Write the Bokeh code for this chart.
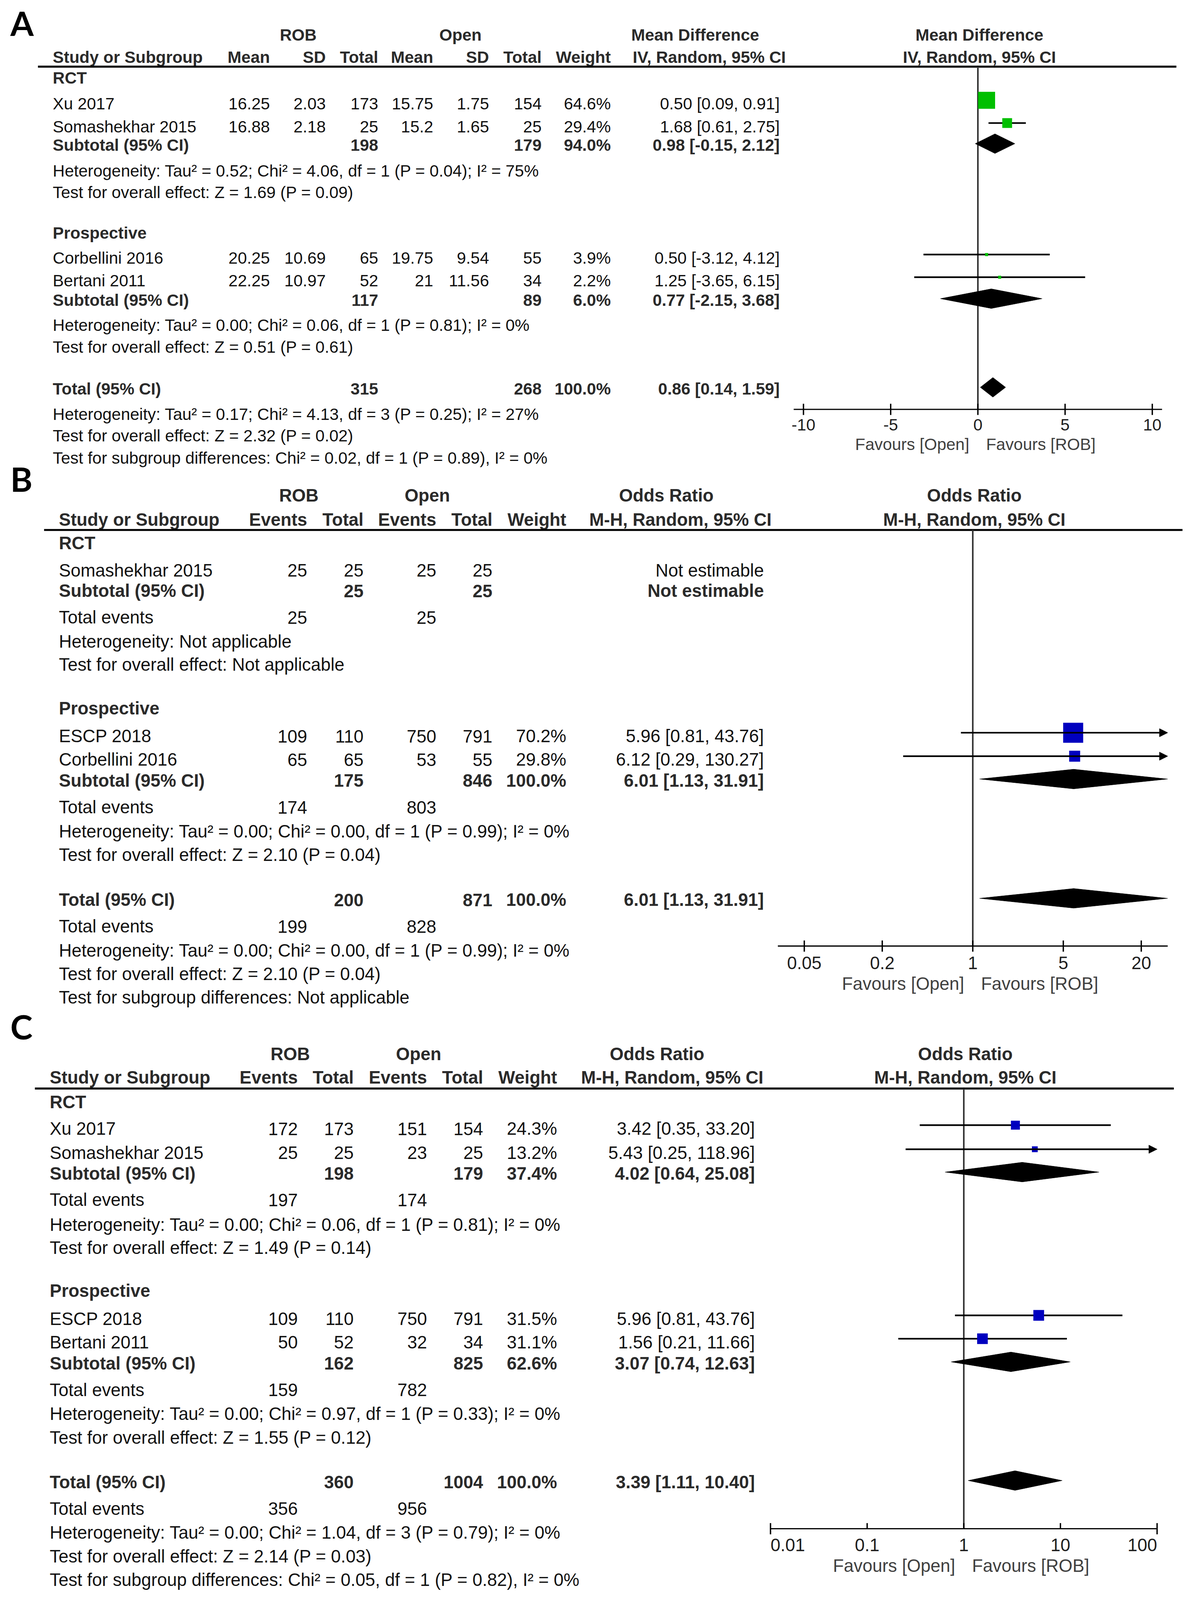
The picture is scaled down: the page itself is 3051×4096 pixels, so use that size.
import math
from bokeh.plotting import figure
from bokeh.models import Range1d, LinearScale, LogScale, ColumnDataSource, Arrow, NormalHead
from bokeh.core.properties import value
from bokeh.embed import file_html
from bokeh.resources import INLINE

# ======================= DATA =======================
# ---- Panel A : Mean Difference (IV, Random) ----
A_groups = ["RCT", "Prospective"]
A_study = ["Xu 2017", "Somashekhar 2015", "Corbellini 2016", "Bertani 2011"]
A_rob_mean = [16.25, 16.88, 20.25, 22.25]
A_rob_sd = [2.03, 2.18, 10.69, 10.97]
A_rob_total = [173, 25, 65, 52]
A_open_mean = [15.75, 15.2, 19.75, 21]
A_open_sd = [1.75, 1.65, 9.54, 11.56]
A_open_total = [154, 25, 55, 34]
A_weight = [64.6, 29.4, 3.9, 2.2]
A_md = [0.50, 1.68, 0.50, 1.25]
A_lo = [0.09, 0.61, -3.12, -3.65]
A_hi = [0.91, 2.75, 4.12, 6.15]
A_sum_label = ["Subtotal (95% CI)", "Subtotal (95% CI)", "Total (95% CI)"]
A_sum_rob_total = [198, 117, 315]
A_sum_open_total = [179, 89, 268]
A_sum_weight = [94.0, 6.0, 100.0]
A_sum_md = [0.98, 0.77, 0.86]
A_sum_lo = [-0.15, -2.15, 0.14]
A_sum_hi = [2.12, 3.68, 1.59]
A_het = ["Heterogeneity: Tau² = 0.52; Chi² = 4.06, df = 1 (P = 0.04); I² = 75%",
         "Heterogeneity: Tau² = 0.00; Chi² = 0.06, df = 1 (P = 0.81); I² = 0%",
         "Heterogeneity: Tau² = 0.17; Chi² = 4.13, df = 3 (P = 0.25); I² = 27%"]
A_test = ["Test for overall effect: Z = 1.69 (P = 0.09)",
          "Test for overall effect: Z = 0.51 (P = 0.61)",
          "Test for overall effect: Z = 2.32 (P = 0.02)"]
A_subgroup = "Test for subgroup differences: Chi² = 0.02, df = 1 (P = 0.89), I² = 0%"
A_ticks = [-10, -5, 0, 5, 10]
A_tick_labels = ["-10", "-5", "0", "5", "10"]
A_axis_limits = [-10.56, 10.56]
A_null = 0

# ---- Panel B : Odds Ratio (M-H, Random) ----
B_groups = ["RCT", "Prospective"]
B_study = ["Somashekhar 2015", "ESCP 2018", "Corbellini 2016"]
B_rob_events = [25, 109, 65]
B_rob_total = [25, 110, 65]
B_open_events = [25, 750, 53]
B_open_total = [25, 791, 55]
B_weight = [None, 70.2, 29.8]
B_or = [None, 5.96, 6.12]
B_lo = [None, 0.81, 0.29]
B_hi = [None, 43.76, 130.27]
B_sum_label = ["Subtotal (95% CI)", "Subtotal (95% CI)", "Total (95% CI)"]
B_sum_rob_total = [25, 175, 200]
B_sum_open_total = [25, 846, 871]
B_sum_weight = [None, 100.0, 100.0]
B_sum_or = [None, 6.01, 6.01]
B_sum_lo = [None, 1.13, 1.13]
B_sum_hi = [None, 31.91, 31.91]
B_events_rob = [25, 174, 199]
B_events_open = [25, 803, 828]
B_het = ["Heterogeneity: Not applicable",
         "Heterogeneity: Tau² = 0.00; Chi² = 0.00, df = 1 (P = 0.99); I² = 0%",
         "Heterogeneity: Tau² = 0.00; Chi² = 0.00, df = 1 (P = 0.99); I² = 0%"]
B_test = ["Test for overall effect: Not applicable",
          "Test for overall effect: Z = 2.10 (P = 0.04)",
          "Test for overall effect: Z = 2.10 (P = 0.04)"]
B_subgroup = "Test for subgroup differences: Not applicable"
B_ticks = [0.05, 0.2, 1, 5, 20]
B_tick_labels = ["0.05", "0.2", "1", "5", "20"]
B_axis_limits = [1 / 32.0, 32.0]
B_null = 1

# ---- Panel C : Odds Ratio (M-H, Random) ----
C_groups = ["RCT", "Prospective"]
C_study = ["Xu 2017", "Somashekhar 2015", "ESCP 2018", "Bertani 2011"]
C_rob_events = [172, 25, 109, 50]
C_rob_total = [173, 25, 110, 52]
C_open_events = [151, 23, 750, 32]
C_open_total = [154, 25, 791, 34]
C_weight = [24.3, 13.2, 31.5, 31.1]
C_or = [3.42, 5.43, 5.96, 1.56]
C_lo = [0.35, 0.25, 0.81, 0.21]
C_hi = [33.20, 118.96, 43.76, 11.66]
C_sum_label = ["Subtotal (95% CI)", "Subtotal (95% CI)", "Total (95% CI)"]
C_sum_rob_total = [198, 162, 360]
C_sum_open_total = [179, 825, 1004]
C_sum_weight = [37.4, 62.6, 100.0]
C_sum_or = [4.02, 3.07, 3.39]
C_sum_lo = [0.64, 0.74, 1.11]
C_sum_hi = [25.08, 12.63, 10.40]
C_events_rob = [197, 159, 356]
C_events_open = [174, 782, 956]
C_het = ["Heterogeneity: Tau² = 0.00; Chi² = 0.06, df = 1 (P = 0.81); I² = 0%",
         "Heterogeneity: Tau² = 0.00; Chi² = 0.97, df = 1 (P = 0.33); I² = 0%",
         "Heterogeneity: Tau² = 0.00; Chi² = 1.04, df = 3 (P = 0.79); I² = 0%"]
C_test = ["Test for overall effect: Z = 1.49 (P = 0.14)",
          "Test for overall effect: Z = 1.55 (P = 0.12)",
          "Test for overall effect: Z = 2.14 (P = 0.03)"]
C_subgroup = "Test for subgroup differences: Chi² = 0.05, df = 1 (P = 0.82), I² = 0%"
C_ticks = [0.01, 0.1, 1, 10, 100]
C_tick_labels = ["0.01", "0.1", "1", "10", "100"]
C_axis_limits = [0.01, 100.0]
C_null = 1

FAVOURS = ["Favours [Open]", "Favours [ROB]"]

# ======================= LAYOUT / STYLE =======================
S = 3051 / 1168.0           # reference-units -> pixels
W, H = 3035, 4080
X0 = 0.0
X1 = X0 + W / S
Y0 = 0.0
Y1 = Y0 + H / S

FONT = "Liberation Sans"
LABEL_FONT = "Lato"
TXT = "#111111"
HDR = "#2a2a2a"
GRAY = "#404040"

p = figure(width=W, height=H, x_range=Range1d(X0, X1), y_range=Range1d(Y1, Y0),
           output_backend="svg", toolbar_location=None,
           x_axis_location=None, y_axis_location=None, min_border=0)
p.outline_line_color = None
p.background_fill_color = "white"
p.border_fill_color = "white"
p.xgrid.visible = False
p.ygrid.visible = False

# forest-plot scales: (position of the null value in reference units, units per unit/decade, log?)
FMAP = {"fA": (958.0, 17.09, False), "fB": (953.0, 126.9, True), "fC": (944.2, 94.7, True)}
xr, xs_ = {}, {}
for name, (c, k, lg) in FMAP.items():
    if lg:
        xr[name] = Range1d(10 ** ((X0 - c) / k), 10 ** ((X1 - c) / k))
        xs_[name] = LogScale()
    else:
        xr[name] = Range1d((X0 - c) / k, (X1 - c) / k)
        xs_[name] = LinearScale()
p.extra_x_ranges = xr
p.extra_x_scales = xs_


def T(xs, ys, texts, align="left", bold=False, fs=42.4, color=TXT, rng="default",
      dx=0, baseline="middle", font=FONT):
    src = ColumnDataSource(dict(x=list(xs), y=list(ys), t=list(texts)))
    p.text(x="x", y="y", text="t", source=src, x_range_name=rng,
           text_align=align, text_baseline=baseline, text_font=value(font),
           text_font_size=f"{fs:.1f}px", text_font_style="bold" if bold else "normal",
           text_color=color, x_offset=dx)


def fmt_ci(e, l, h):
    if e is None:
        return "Not estimable"
    return f"{e:.2f} [{l:.2f}, {h:.2f}]"


def fmt_w(w):
    return "" if w is None else f"{w:.1f}%"


def fmt_g(v):
    return f"{v:g}"


def rule(x0, x1, y):
    p.segment(x0=[x0], y0=[y], x1=[x1], y1=[y], line_width=5.2, line_color="black")


def forest(rng, L, null_v, est, lo, hi, weights, a_size, color,
           s_est, s_lo, s_hi, limits, ticks, tick_labels, tick_align, inner_up, fs):
    ys = [y - 3.5 for y in L["studies"]]
    # null line
    p.segment(x0=[null_v], y0=[L["rule"]], x1=[null_v], y1=[L["axis"]], x_range_name=rng,
              line_width=4, line_color="#333333")
    seg = dict(x0=[], x1=[], y=[])
    arr = dict(x0=[], x1=[], y=[])
    sq = dict(x=[], y=[], s=[])
    for e, l, h, w, y in zip(est, lo, hi, weights, ys):
        if e is None:
            continue
        if h > limits[1]:
            arr["x0"].append(max(l, limits[0])); arr["x1"].append(limits[1]); arr["y"].append(y)
        else:
            seg["x0"].append(max(l, limits[0])); seg["x1"].append(h); seg["y"].append(y)
        sq["x"].append(e); sq["y"].append(y)
        sq["s"].append(max(a_size * w ** 0.7, 3.0) * S)
    if seg["x0"]:
        p.segment(x0="x0", y0="y", x1="x1", y1="y", source=ColumnDataSource(seg),
                  x_range_name=rng, line_width=4.2, line_color="black")
    if arr["x0"]:
        p.add_layout(Arrow(end=NormalHead(size=21, fill_color="black", line_color="black", line_width=1),
                           x_start="x0", y_start="y", x_end="x1", y_end="y",
                           source=ColumnDataSource(arr), x_range_name=rng,
                           line_width=4.2, line_color="black"))
    p.scatter(x="x", y="y", size="s", marker="square", source=ColumnDataSource(sq),
              x_range_name=rng, fill_color=color, line_color=None)
    # diamonds
    dxs, dys = [], []
    for e, l, h, y in zip(s_est, s_lo, s_hi, L["sums"]):
        if e is None:
            continue
        yc = y - 1.5
        dxs.append([l, e, h, e]); dys.append([yc, yc - 9.6, yc, yc + 9.6])
    p.patches(xs="xs", ys="ys", source=ColumnDataSource(dict(xs=dxs, ys=dys)), x_range_name=rng,
              fill_color="black", line_color="black", line_width=1)
    # axis
    ya = L["axis"]
    p.segment(x0=[limits[0]], y0=[ya], x1=[limits[1]], y1=[ya], x_range_name=rng,
              line_width=3.2, line_color="black")
    t0, t1 = [], []
    for i, t in enumerate(ticks):
        end = (i == 0 or i == len(ticks) - 1)
        t0.append(ya - 5.5)
        t1.append(ya + (0 if (inner_up and not end) else 5.5))
    p.segment(x0=ticks, y0=t0, x1=ticks, y1=t1, x_range_name=rng, line_width=3.5, line_color="black")
    for al in ("left", "center", "right"):
        sel = [i for i, a in enumerate(tick_align) if a == al]
        if sel:
            T([ticks[i] for i in sel], [L["tl"]] * len(sel), [tick_labels[i] for i in sel],
              align=al, fs=fs, color="#1e1e1e", rng=rng)
    T([null_v], [L["fav"]], [FAVOURS[0]], align="right", fs=fs, color=GRAY, rng=rng, dx=-22)
    T([null_v], [L["fav"]], [FAVOURS[1]], align="left", fs=fs, color=GRAY, rng=rng, dx=21)


# ======================= PANEL A =======================
LA = dict(label=22.2, h1=34.0, h2=55.8, rule=65.1, groups=[76.0, 228.0],
          studies=[101.6, 123.9, 252.8, 275.0], sums=[142.1, 294.0, 380.9],
          het=[167.3, 318.6, 405.8], test=[188.5, 339.8, 426.7], subgroup=448.5,
          axis=401.0, tl=416.2, fav=435.3)
XA = dict(study=51.5, cols=[264.3, 319.0, 370.4, 424.3, 479.0, 530.5, 598.3, 763.8],
          rule=(37.0, 1152.5), h1=[292.0, 451.0, 681.0], ci_hdr=694.8)
fa = 42.4

T([10.0], [LA["label"]], ["A"], bold=True, fs=86, color="black", font=LABEL_FONT)
T(XA["h1"], [LA["h1"]] * 3, ["ROB", "Open", "Mean Difference"], "center", True, fa, HDR)
T([A_null], [LA["h1"]], ["Mean Difference"], "center", True, fa, HDR, rng="fA", dx=4)
T([XA["study"]], [LA["h2"]], ["Study or Subgroup"], "left", True, fa, HDR)
T(XA["cols"][:7], [LA["h2"]] * 7, ["Mean", "SD", "Total", "Mean", "SD", "Total", "Weight"],
  "right", True, fa, HDR)
T([XA["ci_hdr"]], [LA["h2"]], ["IV, Random, 95% CI"], "center", True, fa, HDR)
T([A_null], [LA["h2"]], ["IV, Random, 95% CI"], "center", True, fa, HDR, rng="fA", dx=4)
rule(XA["rule"][0], XA["rule"][1], LA["rule"])

T([XA["study"]] * 2, LA["groups"], A_groups, "left", True, fa, HDR)
n = len(A_study)
T([XA["study"]] * n, LA["studies"], A_study, "left", False, fa)
cols_a = [[fmt_g(v) for v in A_rob_mean], [fmt_g(v) for v in A_rob_sd], [str(v) for v in A_rob_total],
          [fmt_g(v) for v in A_open_mean], [fmt_g(v) for v in A_open_sd], [str(v) for v in A_open_total],
          [fmt_w(v) for v in A_weight], [fmt_ci(e, l, h) for e, l, h in zip(A_md, A_lo, A_hi)]]
for cx, vals in zip(XA["cols"], cols_a):
    T([cx] * n, LA["studies"], vals, "right", False, fa)
m = len(A_sum_label)
T([XA["study"]] * m, LA["sums"], A_sum_label, "left", True, fa, HDR)
T([XA["cols"][2]] * m, LA["sums"], [str(v) for v in A_sum_rob_total], "right", True, fa, HDR)
T([XA["cols"][5]] * m, LA["sums"], [str(v) for v in A_sum_open_total], "right", True, fa, HDR)
T([XA["cols"][6]] * m, LA["sums"], [fmt_w(v) for v in A_sum_weight], "right", True, fa, HDR)
T([XA["cols"][7]] * m, LA["sums"], [fmt_ci(e, l, h) for e, l, h in zip(A_sum_md, A_sum_lo, A_sum_hi)],
  "right", True, fa, HDR)
T([XA["study"]] * 3, LA["het"], A_het, "left", False, fa)
T([XA["study"]] * 3, LA["test"], A_test, "left", False, fa)
T([XA["study"]], [LA["subgroup"]], [A_subgroup], "left", False, fa)

forest("fA", LA, A_null, A_md, A_lo, A_hi, A_weight, 0.90, "#00bf00",
       A_sum_md, A_sum_lo, A_sum_hi, A_axis_limits, A_ticks, A_tick_labels,
       ["center"] * 5, False, fa)


# ======================= PANELS B & C =======================
def or_panel(letter, L, X, rng, null_v, fs, groups, study, rob_ev, rob_tot, op_ev, op_tot, weight,
             est, lo, hi, sum_label, s_rob_tot, s_op_tot, s_w, s_est, s_lo, s_hi, ev_rob, ev_op,
             het, test, subgroup, ticks, tick_labels, tick_align, inner_up, limits, a_size):
    T([10.0], [L["label"]], [letter], bold=True, fs=86, color="black", font=LABEL_FONT)
    T(X["h1"], [L["h1"]] * 3, ["ROB", "Open", "Odds Ratio"], "center", True, fs, HDR)
    T([null_v], [L["h1"]], ["Odds Ratio"], "center", True, fs, HDR, rng=rng, dx=4)
    T([X["study"]], [L["h2"]], ["Study or Subgroup"], "left", True, fs, HDR)
    T(X["cols"][:5], [L["h2"]] * 5, ["Events", "Total", "Events", "Total", "Weight"], "right", True, fs, HDR)
    T([X["ci_hdr"]], [L["h2"]], ["M-H, Random, 95% CI"], "center", True, fs, HDR)
    T([null_v], [L["h2"]], ["M-H, Random, 95% CI"], "center", True, fs, HDR, rng=rng, dx=4)
    rule(X["rule"][0], X["rule"][1], L["rule"])

    T([X["study"]] * 2, L["groups"], groups, "left", True, fs, HDR)
    k = len(study)
    T([X["study"]] * k, L["studies"], study, "left", False, fs)
    cols = [[str(v) for v in rob_ev], [str(v) for v in rob_tot], [str(v) for v in op_ev],
            [str(v) for v in op_tot], [fmt_w(v) for v in weight],
            [fmt_ci(e, l, h) for e, l, h in zip(est, lo, hi)]]
    for cx, vals in zip(X["cols"], cols):
        T([cx] * k, L["studies"], vals, "right", False, fs)
    m = len(sum_label)
    T([X["study"]] * m, L["sums"], sum_label, "left", True, fs, HDR)
    T([X["cols"][1]] * m, L["sums"], [str(v) for v in s_rob_tot], "right", True, fs, HDR)
    T([X["cols"][3]] * m, L["sums"], [str(v) for v in s_op_tot], "right", True, fs, HDR)
    T([X["cols"][4]] * m, L["sums"], [fmt_w(v) for v in s_w], "right", True, fs, HDR)
    T([X["cols"][5]] * m, L["sums"], [fmt_ci(e, l, h) for e, l, h in zip(s_est, s_lo, s_hi)],
      "right", True, fs, HDR)
    T([X["study"]] * m, L["events"], ["Total events"] * m, "left", False, fs)
    T([X["cols"][0]] * m, L["events"], [str(v) for v in ev_rob], "right", False, fs)
    T([X["cols"][2]] * m, L["events"], [str(v) for v in ev_op], "right", False, fs)
    T([X["study"]] * m, L["het"], het, "left", False, fs)
    T([X["study"]] * m, L["test"], test, "left", False, fs)
    T([X["study"]], [L["subgroup"]], [subgroup], "left", False, fs)
    forest(rng, L, null_v, est, lo, hi, weight, a_size, "#0000bf",
           s_est, s_lo, s_hi, limits, ticks, tick_labels, tick_align, inner_up, fs)


LB = dict(label=469.0, h1=485.3, h2=509.0, rule=519.2, groups=[532.0, 694.0],
          studies=[558.8, 721.4, 744.4], sums=[579.0, 764.8, 881.7], events=[605.0, 791.0, 907.8],
          het=[628.6, 814.6, 931.5], test=[651.3, 837.7, 954.5], subgroup=977.5,
          axis=927.0, tl=943.3, fav=963.9)
XB = dict(study=57.5, cols=[300.8, 356.0, 427.3, 482.3, 554.7, 748.3], rule=(43.0, 1158.5),
          h1=[292.6, 418.5, 652.7], ci_hdr=666.5)
or_panel("B", LB, XB, "fB", B_null, 45.4, B_groups, B_study, B_rob_events, B_rob_total,
         B_open_events, B_open_total, B_weight, B_or, B_lo, B_hi, B_sum_label, B_sum_rob_total,
         B_sum_open_total, B_sum_weight, B_sum_or, B_sum_lo, B_sum_hi, B_events_rob, B_events_open,
         B_het, B_test, B_subgroup, B_ticks, B_tick_labels, ["center"] * 5, False, B_axis_limits, 1.0)

LC = dict(label=1005.5, h1=1033.0, h2=1056.0, rule=1066.6, groups=[1080.0, 1265.0],
          studies=[1106.0, 1129.6, 1292.4, 1315.3], sums=[1150.0, 1336.0, 1452.3],
          events=[1175.8, 1362.0, 1478.4], het=[1200.0, 1385.4, 1501.7],
          test=[1222.6, 1408.7, 1525.0], subgroup=1548.3, axis=1498.0, tl=1514.0, fav=1534.5)
XC = dict(study=48.5, cols=[291.6, 346.4, 418.2, 473.2, 545.7, 739.5], rule=(34.0, 1150.0),
          h1=[284.2, 410.0, 643.6], ci_hdr=658.5)
or_panel("C", LC, XC, "fC", C_null, 45.4, C_groups, C_study, C_rob_events, C_rob_total,
         C_open_events, C_open_total, C_weight, C_or, C_lo, C_hi, C_sum_label, C_sum_rob_total,
         C_sum_open_total, C_sum_weight, C_sum_or, C_sum_lo, C_sum_hi, C_events_rob, C_events_open,
         C_het, C_test, C_subgroup, C_ticks, C_tick_labels,
         ["left", "center", "center", "center", "right"], True, C_axis_limits, 0.94)

open("out.html", "w").write(file_html(p, INLINE))
